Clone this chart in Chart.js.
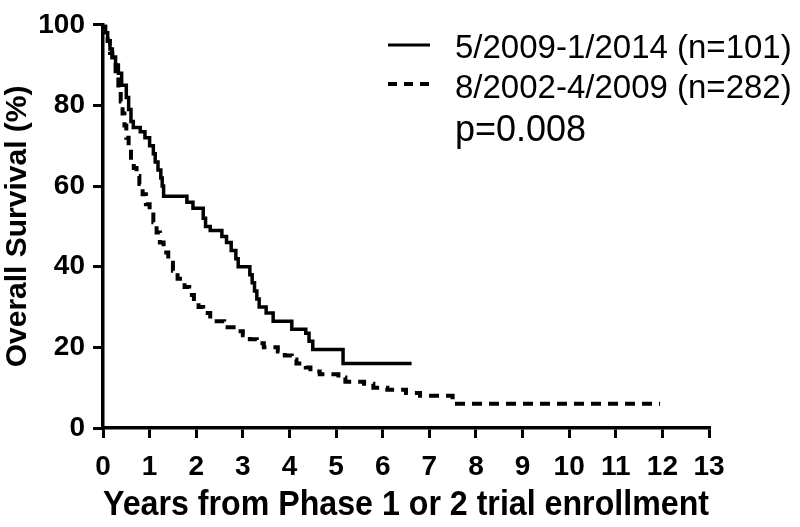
<!DOCTYPE html>
<html>
<head>
<meta charset="utf-8">
<script src="https://cdn.jsdelivr.net/npm/chart.js@4/dist/chart.umd.min.js"></script>
<style>
  html, body { margin: 0; padding: 0; background: #fff; }
  #wrap { width: 800px; height: 527px; position: relative; }
</style>
</head>
<body>
<div id="wrap"><canvas id="kmChart" width="800" height="527"></canvas></div>
<script>
// legend / annotation text
const seriesLabels = ["5/2009-1/2014 (n=101)", "8/2002-4/2009 (n=282)"];
const pValueText = "p=0.008";

// 5/2009-1/2014 cohort: time (years) and survival (%) after each step
const recentYears = [0, 0.05, 0.1, 0.15, 0.2, 0.27, 0.33, 0.4, 0.5, 0.55, 0.6, 0.65, 0.8, 0.9, 1.0,
  1.08, 1.12, 1.18, 1.24, 1.27, 1.3, 1.8, 1.93, 2.15, 2.2, 2.3, 2.55, 2.65, 2.75, 2.85, 2.9,
  3.15, 3.2, 3.25, 3.3, 3.35, 3.5, 3.65, 4.05, 4.35, 4.42, 4.5, 5.15, 6.62];
const recentSurvival = [100, 98, 96, 94, 92, 90, 88, 85, 82, 79, 76, 74.5, 73.5, 72, 70,
  68, 66, 64, 62, 60, 57.5, 56, 54.5, 52, 50, 49, 47.5, 46, 44, 42, 40,
  38, 36, 34, 32, 30, 28.5, 26.5, 24.5, 23.5, 21.5, 19.5, 16, 16];

// 8/2002-4/2009 cohort
const earlyYears = [0, 0.05, 0.1, 0.15, 0.2, 0.27, 0.33, 0.38, 0.42, 0.46, 0.5, 0.55, 0.6, 0.66,
  0.72, 0.78, 0.85, 0.92, 1.0, 1.08, 1.15, 1.22, 1.3, 1.4, 1.5, 1.6, 1.75, 1.85, 1.95, 2.05,
  2.15, 2.3, 2.6, 2.9, 3.0, 3.15, 3.3, 3.45, 3.75, 3.9, 4.05, 4.15, 4.35, 4.45, 4.65, 5.05,
  5.2, 5.6, 5.8, 6.1, 6.5, 6.8, 7.5, 11.95];
const earlySurvival = [100, 98, 96, 93, 90, 87, 84, 81, 78, 75, 72, 70, 67, 64.5,
  62.5, 60.5, 58, 55.5, 53.5, 51, 48.5, 46, 43.5, 41, 39, 37, 35, 33, 31.5, 30,
  28.5, 26.5, 25, 24, 23, 22, 21, 20, 19, 18, 17, 16, 15, 14, 13.3, 12.5,
  11.5, 11, 10, 9.5, 8.7, 8, 6, 6];

// axis ticks
const xTicks = [0, 1, 2, 3, 4, 5, 6, 7, 8, 9, 10, 11, 12, 13];
const yTicks = [0, 20, 40, 60, 80, 100];

const toPoints = (xs, ys) => xs.map((x, i) => ({ x: x, y: ys[i] }));

/* ==================== LEGEND PLUGIN ==================== */
const kmLegend = {
  id: "kmLegend",
  afterDraw(chart) {
    const ctx = chart.ctx;
    ctx.save();
    ctx.fillStyle = "#000";
    ctx.strokeStyle = "#000";
    ctx.textBaseline = "alphabetic";
    ctx.textAlign = "left";
    ctx.font = "33px 'Liberation Sans', Arial, sans-serif";

    // solid row
    ctx.lineWidth = 3;
    ctx.beginPath();
    ctx.moveTo(388, 45);
    ctx.lineTo(430, 45);
    ctx.stroke();
    ctx.fillText(seriesLabels[0], 455, 58);

    // dashed row
    ctx.lineWidth = 4;
    ctx.setLineDash([9, 7]);
    ctx.beginPath();
    ctx.moveTo(388, 84);
    ctx.lineTo(432, 84);
    ctx.stroke();
    ctx.setLineDash([]);
    ctx.fillText(seriesLabels[1], 455, 98);

    ctx.font = "36px 'Liberation Sans', Arial, sans-serif";
    ctx.fillText(pValueText, 455, 141);
    ctx.restore();
  },
};

const tickFont = { family: "'Liberation Sans', Arial, sans-serif", weight: "bold", size: 28 };

new Chart(document.getElementById("kmChart"), {
  type: "line",
  data: {
    datasets: [
      {
        label: seriesLabels[0],
        data: toPoints(recentYears, recentSurvival),
        stepped: true,
        borderColor: "#000",
        borderWidth: 3.5,
        pointRadius: 0,
        fill: false,
      },
      {
        label: seriesLabels[1],
        data: toPoints(earlyYears, earlySurvival),
        stepped: true,
        borderColor: "#000",
        borderWidth: 4,
        borderDash: [10, 7],
        pointRadius: 0,
        fill: false,
      },
    ],
  },
  options: {
    responsive: false,
    animation: false,
    layout: { padding: { left: 0, right: 91, top: 24, bottom: 0 } },
    plugins: {
      legend: { display: false },
      tooltip: { enabled: false },
    },
    scales: {
      x: {
        type: "linear",
        min: 0,
        max: 13,
        afterFit: (s) => { s.height = 99; },
        afterBuildTicks: (s) => { s.ticks = xTicks.map((v) => ({ value: v })); },
        ticks: { color: "#000", font: tickFont, padding: 12, maxRotation: 0, autoSkip: false },
        grid: { drawOnChartArea: false, drawTicks: true, tickLength: 10, lineWidth: 3, color: "#000" },
        border: { display: true, width: 3.5, color: "#000" },
        title: {
          display: true,
          text: "Years from Phase 1 or 2 trial enrollment",
          color: "#000",
          font: { family: "'Liberation Sans', Arial, sans-serif", weight: "bold", size: 35 },
          padding: { top: 0, bottom: 1 },
        },
      },
      y: {
        min: 0,
        max: 100,
        afterFit: (s) => { s.width = 103; },
        afterBuildTicks: (s) => { s.ticks = yTicks.map((v) => ({ value: v })); },
        ticks: { color: "#000", font: tickFont, padding: 8 },
        grid: { drawOnChartArea: false, drawTicks: true, tickLength: 10, lineWidth: 3, color: "#000" },
        border: { display: true, width: 3.5, color: "#000" },
        title: {
          display: true,
          text: "Overall Survival (%)",
          color: "#000",
          font: { family: "'Liberation Sans', Arial, sans-serif", weight: "bold", size: 30 },
          padding: { top: 0, bottom: 0 },
        },
      },
    },
  },
  plugins: [kmLegend],
});
</script>
</body>
</html>
